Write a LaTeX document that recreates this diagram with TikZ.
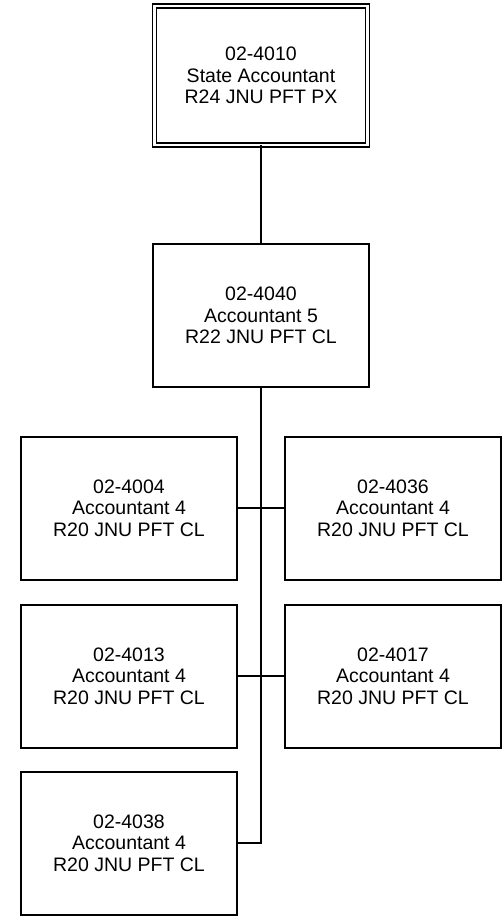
\documentclass[tikz,border=0pt]{standalone}
\usepackage{fontspec}
\setmainfont{Liberation Sans}
\begin{document}
\begin{tikzpicture}[x=1pt,y=-1pt,
  posbox/.style={draw, line width=2pt, minimum width=216pt, minimum height=143pt,
    inner sep=0pt, outer sep=0pt, align=center, font=\fontsize{19.5}{21.5}\selectfont},
  topbox/.style={posbox, line width=1.4pt, double, double distance=2.4pt,
    minimum width=213pt, minimum height=139pt},
  link/.style={line width=2pt}]
\useasboundingbox (0,0) rectangle (501,916);
\node[topbox] (top) at (261,75.5) {02-4010\\State Accountant\\R24 JNU PFT PX};
\node[posbox] (mid) at (261,315.5) {02-4040\\Accountant 5\\R22 JNU PFT CL};
\node[posbox] (l1) at (129,508) {02-4004\\Accountant 4\\R20 JNU PFT CL};
\node[posbox] (r1) at (393,508) {02-4036\\Accountant 4\\R20 JNU PFT CL};
\node[posbox] (l2) at (129,676) {02-4013\\Accountant 4\\R20 JNU PFT CL};
\node[posbox] (r2) at (393,676) {02-4017\\Accountant 4\\R20 JNU PFT CL};
\node[posbox] (l3) at (129,843) {02-4038\\Accountant 4\\R20 JNU PFT CL};
\draw[link] (top.south) -- (mid.north);
\draw[link] (mid.south) |- (l3.east);
\draw[link] (l1.east) -- (r1.west);
\draw[link] (l2.east) -- (r2.west);
\end{tikzpicture}
\end{document}
